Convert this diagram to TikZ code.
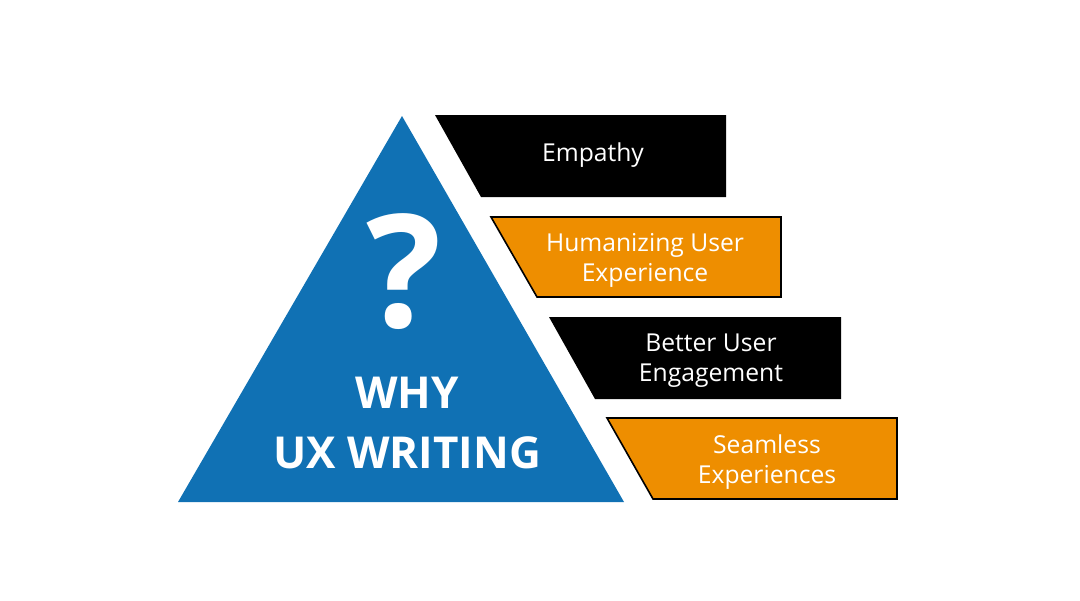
\documentclass[tikz,border=0pt]{standalone}
\usepackage{fontspec}
\setmainfont{Open Sans}
\definecolor{uxblue}{HTML}{1071B4}
\definecolor{uxorange}{HTML}{EE8E00}

\begin{document}
\begin{tikzpicture}[x=0.75pt,y=-0.75pt,
    darkbar/.style={fill=black},
    lightbar/.style={fill=uxorange,draw=black,line width=1.2pt},
    bartext/.style={text=white,align=center,font=\fontsize{18.5}{22.5}\selectfont}]
                    \useasboundingbox (0,0) rectangle (1080,600);

                    % pyramid
                    \fill[uxblue] (402,116) -- (624,502) -- (178,502) -- cycle;
                    \node[text=white,font=\fontsize{118}{118}\selectfont\bfseries] at (404,272) (q) {?};
                    \node[text=white,align=center,font=\fontsize{33}{45}\selectfont\bfseries] at (407,423) (why) {WHY\\UX WRITING};

                    % bars
                    \fill[darkbar] (435,115) -- (726,115) -- (726,197) -- (481,197) -- cycle;
                    \draw[lightbar] (491,217) -- (781,217) -- (781,297) -- (537,297) -- cycle;
                    \fill[darkbar] (549,317) -- (841,317) -- (841,399) -- (595,399) -- cycle;
                    \draw[lightbar] (607,418) -- (897,418) -- (897,499) -- (653,499) -- cycle;

                    \node[bartext] at (593,155) (b1) {Empathy};
                    \node[bartext] at (645,260) (b2) {Humanizing User\\Experience};
                    \node[bartext] at (711,361) (b3) {Better User\\Engagement};
                    \node[bartext] at (767,462) (b4) {Seamless\\Experiences};
                \end{tikzpicture}
\end{document}
